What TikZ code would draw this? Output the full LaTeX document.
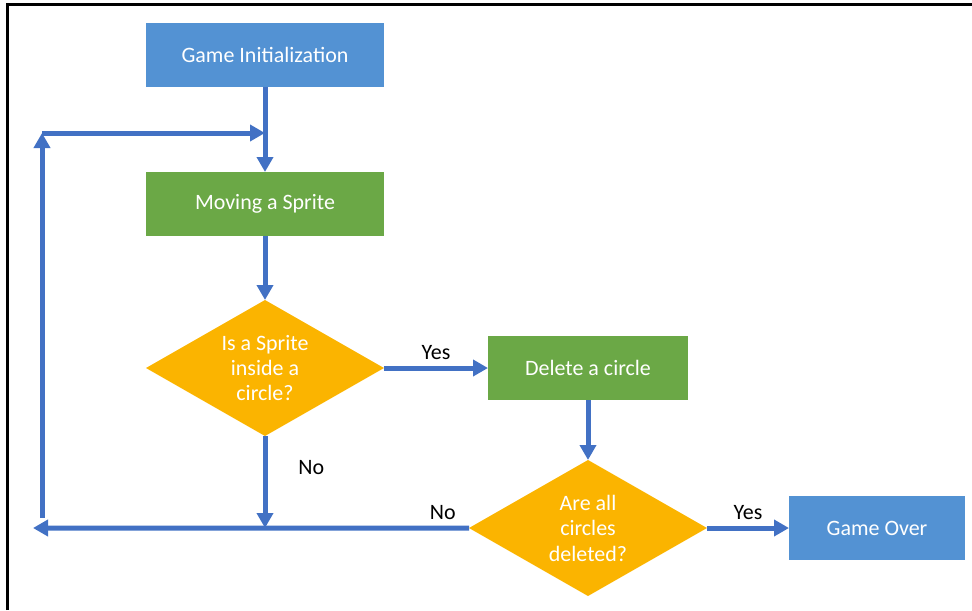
\documentclass[tikz,border=0pt]{standalone}
\usepackage{fontspec}
\setmainfont{Carlito}
\usepackage{tikz}
\usetikzlibrary{shapes.geometric, arrows.meta, positioning, calc}
\definecolor{cBlue}{RGB}{83,146,211}
\definecolor{cGreen}{RGB}{107,168,70}
\definecolor{cGold}{RGB}{251,180,0}
\definecolor{cLink}{RGB}{66,113,196}
\tikzset{
	termbox/.style={rectangle, minimum width=4.76cm, minimum height=1.28cm, text centered, align=center, fill=cBlue, text=white, outer sep=0pt},
	actbox/.style ={rectangle, minimum width=4.76cm, minimum height=1.28cm, text centered, align=center, fill=cGreen, text=white, outer sep=0pt},
	query/.style  ={diamond, aspect=1.75, minimum width=4.76cm, minimum height=2.72cm, inner sep=0pt, text centered, align=center, fill=cGold, text=white, outer sep=0pt},
	flowarrow/.style={-{Triangle[length=0.3cm, width=0.32cm]}, line width=0.1cm, draw=cLink},
}

\begin{document}
\begin{tikzpicture}[every node/.style={font=\fontsize{12.5}{14.5}\selectfont}]
	\useasboundingbox (0,0) rectangle (19.44,12.2);
	\draw[line width=0.06cm] (0.14,0) |- (19.44,12.11);
	\node[termbox] (init) at (5.30,11.10) {Game Initialization};
	\node[actbox, below=1.7cm of init] (move) {Moving a Sprite};
	\node[query, below=1.28cm of move] (inside) {Is a Sprite\\ inside a\\ circle?};
	\node[actbox, right=2.08cm of inside, minimum width=4.0cm] (del) {Delete a circle};
	\node[query, below=1.2cm of del] (alldel) {Are all\\ circles\\ deleted?};
	\node[termbox, right=1.64cm of alldel, minimum width=3.52cm] (over) {Game Over};
	% loop back to the sprite step
	\coordinate (backL) at (0.66,1.64);
	\coordinate (upS) at (0.84,1.84);
	\coordinate (upE) at (0.84,9.54);
	\draw[flowarrow] (init) -- (move);
	\draw[flowarrow] (move) -- (inside);
	\draw[flowarrow] (inside) -- node[above] {Yes} (del);
	\draw[flowarrow] (del) -- (alldel);
	\draw[flowarrow] (alldel) -- node[above] {Yes} (over);
	\draw[flowarrow] (inside) -- node[pos=0.34, right=0.5cm] {No} (inside |- backL);
	\draw[flowarrow] (alldel) -- node[pos=0.06, above] {No} (backL);
	\draw[flowarrow] (upS) -- (upE);
	\draw[flowarrow] (upE) -- (upE -| move);
\end{tikzpicture}
\end{document}
